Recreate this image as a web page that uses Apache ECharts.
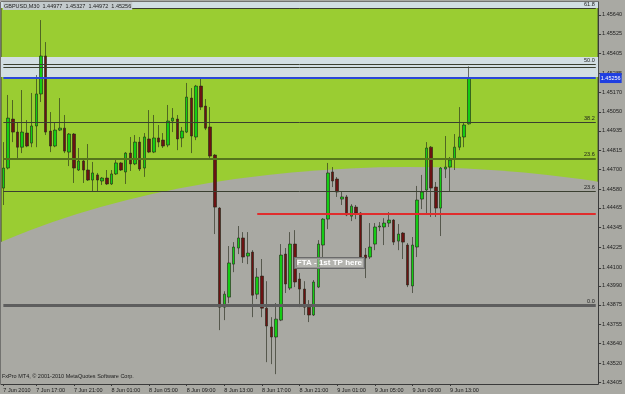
<!DOCTYPE html>
<html>
<head>
<meta charset="utf-8">
<script src="https://cdn.jsdelivr.net/npm/echarts@6/dist/echarts.min.js"></script>
<style>
html, body { margin: 0; padding: 0; background: #a9a9a3; }
#chart { width: 625px; height: 394px; }
</style>
</head>
<body>
<div id="chart"></div>
<script>
// GBPUSD M30, one row per bar: [open, high, low, close]
const candles = [
  [1.44586, 1.44866, 1.44483, 1.44708], [1.44708, 1.45153, 1.44700, 1.45012],
  [1.45006, 1.45122, 1.44866, 1.44927], [1.44927, 1.44988, 1.44757, 1.44835],
  [1.44835, 1.45183, 1.44799, 1.44927], [1.44921, 1.45000, 1.44835, 1.44842],
  [1.44860, 1.45165, 1.44835, 1.44964], [1.44964, 1.45274, 1.44835, 1.45159],
  [1.45159, 1.45609, 1.45110, 1.45390], [1.45390, 1.45475, 1.44909, 1.44927],
  [1.44933, 1.45049, 1.44805, 1.44842], [1.44842, 1.44988, 1.44835, 1.44939],
  [1.44939, 1.45134, 1.44933, 1.44951], [1.44951, 1.45031, 1.44799, 1.44811],
  [1.44805, 1.44921, 1.44720, 1.44915], [1.44915, 1.44921, 1.44617, 1.44708],
  [1.44696, 1.44830, 1.44690, 1.44751], [1.44751, 1.44757, 1.44617, 1.44696],
  [1.44696, 1.44854, 1.44629, 1.44635], [1.44635, 1.44745, 1.44568, 1.44678],
  [1.44666, 1.44678, 1.44568, 1.44635], [1.44629, 1.44653, 1.44605, 1.44647],
  [1.44647, 1.44696, 1.44605, 1.44611], [1.44611, 1.44696, 1.44605, 1.44672],
  [1.44672, 1.44757, 1.44666, 1.44739], [1.44739, 1.44745, 1.44690, 1.44696],
  [1.44684, 1.44805, 1.44611, 1.44799], [1.44799, 1.44897, 1.44690, 1.44733],
  [1.44733, 1.44909, 1.44726, 1.44866], [1.44866, 1.44897, 1.44690, 1.44702],
  [1.44708, 1.44921, 1.44654, 1.44897], [1.44885, 1.45061, 1.44799, 1.44805],
  [1.44805, 1.45031, 1.44799, 1.44891], [1.44891, 1.44970, 1.44835, 1.44866],
  [1.44878, 1.44921, 1.44830, 1.44842], [1.44848, 1.45092, 1.44835, 1.44994],
  [1.44994, 1.45073, 1.44927, 1.45012], [1.45006, 1.45031, 1.44817, 1.44885],
  [1.44891, 1.44958, 1.44835, 1.44933], [1.44927, 1.45226, 1.44921, 1.45140],
  [1.45134, 1.45195, 1.44799, 1.44903], [1.44897, 1.45214, 1.44878, 1.45207],
  [1.45207, 1.45262, 1.45061, 1.45079], [1.45085, 1.45128, 1.44939, 1.44951],
  [1.44958, 1.45079, 1.44757, 1.44781], [1.44787, 1.44793, 1.44306, 1.44470],
  [1.44464, 1.44470, 1.43721, 1.43861], [1.43861, 1.43958, 1.43782, 1.43940],
  [1.43922, 1.44233, 1.43885, 1.44130], [1.44123, 1.44257, 1.44074, 1.44227],
  [1.44221, 1.44355, 1.44184, 1.44282], [1.44282, 1.44318, 1.44130, 1.44166],
  [1.44172, 1.44318, 1.44123, 1.44190], [1.44196, 1.44208, 1.43800, 1.43934],
  [1.43940, 1.44099, 1.43910, 1.44044], [1.44050, 1.44154, 1.43800, 1.43855],
  [1.43855, 1.44019, 1.43526, 1.43746], [1.43740, 1.43800, 1.43514, 1.43679],
  [1.43679, 1.43886, 1.43453, 1.43788], [1.43782, 1.44245, 1.43776, 1.44178],
  [1.44184, 1.44221, 1.43947, 1.44002], [1.43977, 1.44318, 1.43965, 1.44245],
  [1.44245, 1.44330, 1.43983, 1.44014], [1.44032, 1.44069, 1.43861, 1.43971],
  [1.43971, 1.44019, 1.43813, 1.43861], [1.43861, 1.43904, 1.43770, 1.43813],
  [1.43813, 1.44026, 1.43807, 1.44014], [1.43983, 1.44269, 1.43977, 1.44245],
  [1.44239, 1.44403, 1.44166, 1.44397], [1.44397, 1.44739, 1.44336, 1.44678],
  [1.44684, 1.44714, 1.44592, 1.44629], [1.44641, 1.44653, 1.44532, 1.44562],
  [1.44519, 1.44562, 1.44483, 1.44532], [1.44532, 1.44544, 1.44415, 1.44422],
  [1.44415, 1.44488, 1.44385, 1.44476], [1.44470, 1.44483, 1.44397, 1.44434],
  [1.44434, 1.44440, 1.44160, 1.44166], [1.44178, 1.44221, 1.44038, 1.44160],
  [1.44166, 1.44373, 1.44154, 1.44227], [1.44245, 1.44373, 1.44208, 1.44349],
  [1.44349, 1.44379, 1.44324, 1.44355], [1.44349, 1.44403, 1.44239, 1.44373],
  [1.44373, 1.44440, 1.44349, 1.44391], [1.44391, 1.44397, 1.44239, 1.44257],
  [1.44263, 1.44367, 1.44208, 1.44306], [1.44312, 1.44318, 1.44154, 1.44257],
  [1.44239, 1.44251, 1.43983, 1.43996], [1.43990, 1.44288, 1.43947, 1.44239],
  [1.44227, 1.44599, 1.44166, 1.44513], [1.44519, 1.44666, 1.44458, 1.44562],
  [1.44574, 1.44866, 1.44434, 1.44830], [1.44835, 1.44842, 1.44410, 1.44586],
  [1.44592, 1.44623, 1.44410, 1.44464], [1.44464, 1.44714, 1.44294, 1.44708],
  [1.44702, 1.44903, 1.44647, 1.44714], [1.44714, 1.44775, 1.44562, 1.44757],
  [1.44763, 1.44915, 1.44696, 1.44835], [1.44835, 1.45079, 1.44817, 1.44897],
  [1.44897, 1.44988, 1.44835, 1.44970], [1.44977, 1.45327, 1.44972, 1.45256]
];

const slotCount = 127; // bars + empty shift area on the right
const xLabelIndex = [0, 7, 15, 23, 31, 39, 47, 55, 63, 71, 79, 87, 95];
const xLabels = ['7 Jun 2010', '7 Jun 17:00', '7 Jun 21:00', '8 Jun 01:00', '8 Jun 05:00',
  '8 Jun 09:00', '8 Jun 13:00', '8 Jun 17:00', '8 Jun 21:00', '9 Jun 01:00',
  '9 Jun 05:00', '9 Jun 09:00', '9 Jun 13:00'];

const yMin = 1.43393;
const yMax = 1.45719;
const yTicks = [1.45640, 1.45525, 1.45405, 1.45285, 1.45170, 1.45050, 1.44935, 1.44815,
  1.44700, 1.44580, 1.44465, 1.44345, 1.44225, 1.44100, 1.43990, 1.43875, 1.43755,
  1.43640, 1.43520, 1.43405];

// fibo levels: [text, price]
const fiboLevels = [['61.8', 1.45682], ['50.0', 1.45341], ['', 1.45323], ['38.2', 1.44988],
  ['23.6', 1.44766], ['23.6', 1.44568], ['0.0', 1.43874]];
const bidPrice = 1.45256;
const redLine = { from: 54, to: 126, price: 1.44431 };
const bands = [[1.45682, 1.45719], [1.45262, 1.45384]];
// fibo arc: centre bar, centre price, top price, radius in bars
const arc = { bar: 86, price: 1.43021, top: 1.44714, radius: 126.6 };
const note = { bar: 62, price: 1.44130, text: 'FTA - 1st TP here' };

// bar times, 30 min apart from 7 Jun 13:30
const categories = [];
for (let i = 0; i < slotCount; i++) {
  const d = new Date(Date.UTC(2010, 5, 7, 13, 30) + i * 1800000);
  categories.push(d.getUTCDate() + ' Jun ' + String(d.getUTCHours()).padStart(2, '0') + ':' + String(d.getUTCMinutes()).padStart(2, '0'));
}

const FONT = 'Liberation Sans';
const first = categories[0];
const last = categories[slotCount - 1];
const chart = echarts.init(document.getElementById('chart'));

// horizontal level spanning the whole bar range
const level = (price, lineStyle, label) => [
  { coord: [first, price], lineStyle: lineStyle, label: label },
  { coord: [last, price] }
];

const fiboLines = fiboLevels.map((f, i) => level(f[1], {
  color: i === 4 ? '#55751c' : (i === 6 ? '#5e5e5e' : '#3a3f30'),
  width: i === 4 ? 2 : (i === 6 ? 3 : 1),
  type: 'solid'
}, { formatter: f[0] }));

const option = {
  animation: false,
  backgroundColor: '#a9a9a3',
  title: [
    {
      text: 'GBPUSD,M30  1.44977  1.45327  1.44972  1.45256',
      left: 3, top: 2, padding: [1, 1],
      backgroundColor: '#c3cacc',
      textStyle: { fontSize: 5.5, fontWeight: 'normal', color: '#1c1c1c', fontFamily: FONT }
    },
    {
      text: 'FxPro MT4, © 2001-2010 MetaQuotes Software Corp.',
      left: 2, top: 373, padding: 0,
      textStyle: { fontSize: 5.5, fontWeight: 'normal', color: '#1c1c1c', fontFamily: FONT }
    }
  ],
  grid: {
    left: 1, right: 22, top: 2, bottom: 10,
    show: true, backgroundColor: '#9acd32', borderColor: '#3a3a3a', borderWidth: 1
  },
  xAxis: {
    type: 'category',
    data: categories,
    boundaryGap: true,
    axisLine: { lineStyle: { color: '#3a3a3a' } },
    axisTick: {
      show: true, length: 2, alignWithLabel: true,
      interval: (i) => xLabelIndex.includes(i),
      lineStyle: { color: '#3a3a3a' }
    },
    axisLabel: {
      interval: (i) => xLabelIndex.includes(i),
      formatter: (v, i) => xLabels[xLabelIndex.indexOf(i)],
      align: 'left', margin: 3,
      fontSize: 5.5, color: '#1c1c1c', fontFamily: FONT
    },
    splitLine: { show: false }
  },
  yAxis: {
    type: 'value',
    position: 'right',
    min: yMin, max: yMax,
    splitLine: { show: false },
    axisLine: { show: true, lineStyle: { color: '#3a3a3a' } },
    axisTick: { show: true, length: 3, customValues: yTicks, lineStyle: { color: '#3a3a3a' } },
    axisLabel: {
      customValues: yTicks,
      formatter: (v) => v.toFixed(5),
      margin: 4, fontSize: 5.5, color: '#1c1c1c', fontFamily: FONT
    }
  },
  series: [
    {
      type: 'custom',
      z: 1,
      silent: true,
      data: [[arc.bar, arc.price]],
      renderItem: (params, api) => {
        const c = api.coord([api.value(0), api.value(1)]);
        const t = api.coord([api.value(0), arc.top]);
        const rx = api.size([1, 0])[0] * arc.radius;
        const ry = c[1] - t[1];
        const cs = params.coordSys;
        return {
          type: 'group',
          clipPath: { type: 'rect', shape: { x: cs.x, y: cs.y, width: cs.width, height: cs.height } },
          children: [{
            type: 'circle',
            x: c[0], y: c[1], scaleY: ry / rx,
            shape: { cx: 0, cy: 0, r: rx },
            style: { fill: '#a9a9a3' }
          }]
        };
      },
      markArea: {
        silent: true,
        itemStyle: { color: '#d2dee3' },
        data: bands.map((b) => [{ yAxis: b[0] }, { yAxis: b[1] }])
      }
    },
    {
      type: 'candlestick',
      z: 3,
      barWidth: 3,
      data: candles.map((r) => [r[0], r[3], r[2], r[1]]),
      itemStyle: {
        color: '#14cc14',
        color0: '#6c1212',
        borderColor: 'rgba(35,38,25,0.62)',
        borderColor0: 'rgba(35,38,25,0.62)',
        borderWidth: 1
      },
      markPoint: {
        silent: true,
        symbol: 'rect',
        symbolSize: 0,
        data: [{
          coord: [categories[note.bar], note.price],
          label: {
            show: true, position: 'right', distance: 0,
            formatter: note.text,
            color: '#ffffff', fontWeight: 'bold', fontSize: 8, fontFamily: FONT,
            backgroundColor: 'rgba(190,190,186,0.55)',
            borderColor: '#6a6a6a', borderWidth: 1, padding: [1, 2]
          }
        }]
      }
    },
    {
      // objects drawn on the chart: fibo levels, bid line, trend lines
      type: 'line',
      z: 4,
      silent: true,
      data: [],
      markLine: {
        silent: true,
        symbol: ['none', 'none'],
        label: {
          position: 'insideEndTop', distance: [1, 1],
          fontSize: 5.5, color: '#1c1c1c', fontFamily: FONT
        },
        data: fiboLines.concat([
          level(bidPrice, { color: '#2a48d8', width: 2, type: 'solid' }, {
            position: 'end', distance: 4, formatter: bidPrice.toFixed(5),
            backgroundColor: '#1f3fe0', color: '#ffffff', padding: [2, 1, 2, 1]
          }),
          [
            { coord: [categories[redLine.from], redLine.price], lineStyle: { color: '#e02c2c', width: 2, type: 'solid' }, label: { show: false } },
            { coord: [categories[redLine.to], redLine.price] }
          ],
          [
            { coord: [categories[0], 1.45695], lineStyle: { color: '#e02c2c', width: 2, type: 'solid' }, label: { show: false } },
            { coord: [categories[4], 1.45722] }
          ]
        ])
      }
    }
  ]
};

chart.setOption(option);
</script>
</body>
</html>
